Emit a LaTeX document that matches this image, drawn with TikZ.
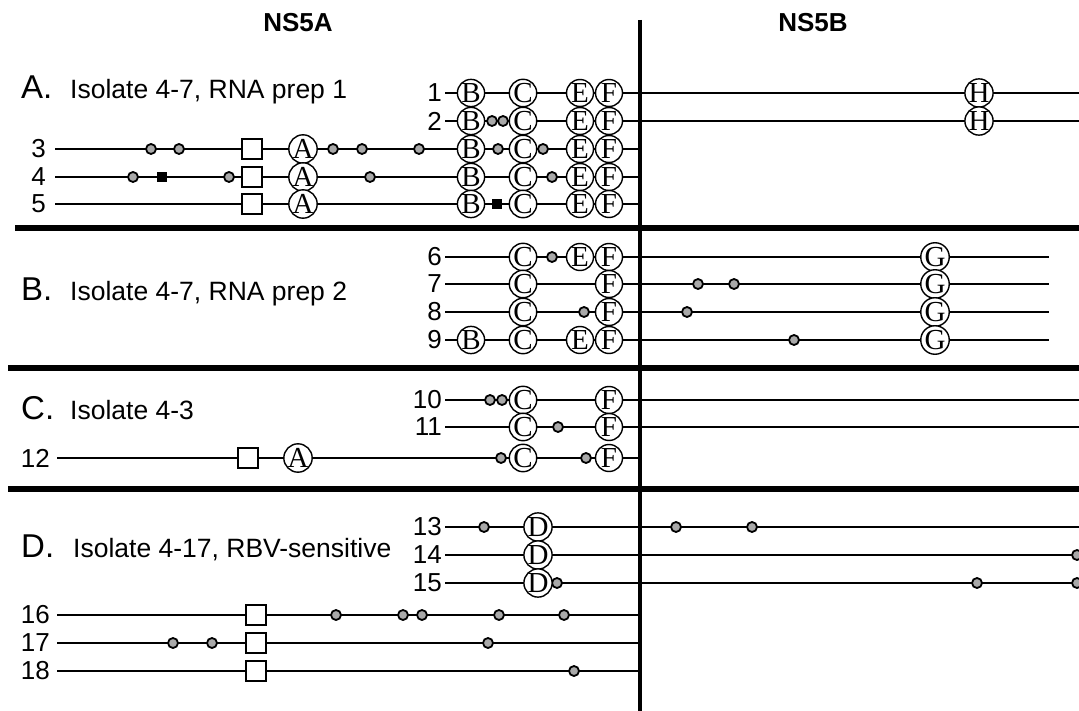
\documentclass[tikz,border=0pt]{standalone}
\usepackage{fontspec}
\usepackage{xcolor}
\usepackage{tikz}
\setmainfont{Liberation Sans}
\newfontfamily\siteface{Liberation Serif}
\definecolor{snpgray}{HTML}{A9A9A9}

\tikzset{
  site/.style={circle, draw, fill=white, line width=1.4pt, inner sep=0pt,
               minimum size=27pt, font=\siteface\fontsize{29}{29}\selectfont},
  snp/.style={circle, draw, fill=snpgray, line width=1.8pt, inner sep=0pt,
              minimum size=10pt},
  stopbox/.style={rectangle, fill=black, inner sep=0pt, minimum size=10pt},
  isdbox/.style={rectangle, draw, fill=white, line width=1.2pt, inner sep=0pt,
                 minimum size=20pt},
  clone/.style={anchor=east, inner sep=0pt, font=\fontsize{26}{26}\selectfont},
  rowline/.style={line width=1.7pt},
  bar/.style={line width=6.5pt},
  head/.style={anchor=base, inner sep=0pt, font=\fontsize{26}{26}\selectfont\bfseries}
}

\begin{document}
\begin{tikzpicture}[x=1pt, y=-1pt]
    \useasboundingbox (0,0) rectangle (1079,711);

    \node[head] (ns5a) at (298,32) {NS5A};
    \node[head] (ns5b) at (813,32) {NS5B};

    \coordinate (divtop) at (640,20);
    \coordinate (divbot) at (640,711);
    \draw[line width=4pt] (divtop) -- (divbot);
    \foreach \x/\y [count=\i] in {15/228, 8/368, 8/489}{
      \coordinate (bl\i) at (\x,\y);
      \coordinate (br\i) at (1079,\y);
      \draw[bar] (bl\i) -- (br\i);
    }

    \foreach \s/\y/\txt/\tx in {A/99/{Isolate 4-7, RNA prep 1}/70,
                                B/301/{Isolate 4-7, RNA prep 2}/70,
                                C/419/{Isolate 4-3}/70,
                                D/557/{Isolate 4-17, RBV-sensitive}/73}{
      \node[anchor=base west, inner sep=0pt, font=\fontsize{33}{33}\selectfont]
        (grp\s) at (21,\y) {\s.};
      \node[anchor=base west, inner sep=0pt, font=\fontsize{26.5}{26.5}\selectfont]
        (iso\s) at (\tx,\y) {\txt};
    }

    \foreach \n/\lx/\g/\y/\ex in {1/442/3/93/1079, 2/442/3/121/1079,
        3/46/9/149/641, 4/46/9/177/641, 5/46/9/204/641,
        6/442/3/257/1049, 7/442/3/284/1049, 8/442/3/312/1049, 9/442/3/340/1049,
        10/442/3/400/1079, 11/442/3/427/1079, 12/50/7/458/641,
        13/442/3/527/1079, 14/442/3/555/1079, 15/442/3/583/1079,
        16/50/7/615/641, 17/50/7/643/641, 18/50/7/671/641}{
      \node[clone] (c\n) at (\lx,\y) {\n};
      \coordinate (ce\n) at (\ex,\y);
      \draw[rowline] ([xshift=\g pt]c\n.east) -- (ce\n);
    }

    \foreach \x/\y [count=\i] in {252/149, 252/177, 252/204, 248/458,
                                  256/615, 256/643, 256/671}
      \node[isdbox] (isd\i) at (\x,\y) {};

    \foreach \x/\y [count=\i] in {162/177, 497/204}
      \node[stopbox] (stp\i) at (\x,\y) {};

    \foreach \x/\y [count=\i] in {492/121, 503/121,
        151/149, 179/149, 333/149, 362/149, 419/149, 498/149, 543/149,
        133/177, 229/177, 370/177, 552/177,
        552/257, 698/284, 734/284, 584/312, 687/312, 794/340,
        490/400, 502/400, 558/427, 501/458, 586/458,
        484/527, 676/527, 752/527, 1077/555, 557/583, 977/583, 1077/583,
        336/615, 403/615, 422/615, 499/615, 564/615,
        173/643, 212/643, 488/643, 574/671}
      \node[snp] (snp\i) at (\x,\y) {};

    \foreach \t/\x/\y [count=\i] in {B/471/93, C/523/93, E/580/93, F/609/93, H/979/93,
        B/471/121, C/523/121, E/580/121, F/609/121, H/979/121,
        A/303/149, B/471/149, C/523/149, E/580/149, F/609/149,
        A/303/177, B/471/177, C/523/177, E/580/177, F/609/177,
        A/303/204, B/471/204, C/523/204, E/580/204, F/609/204,
        C/523/257, E/580/257, F/609/257, G/935/257,
        C/523/284, F/609/284, G/935/284,
        C/523/312, F/609/312, G/935/312,
        B/471/340, C/523/340, E/580/340, F/609/340, G/935/340,
        C/523/400, F/609/400, C/523/427, F/609/427,
        A/298/458, C/523/458, F/609/458,
        D/538/527, D/538/555, D/538/583}
      \node[site] (st\i) at (\x,\y) {\t};
  \end{tikzpicture}
\end{document}
